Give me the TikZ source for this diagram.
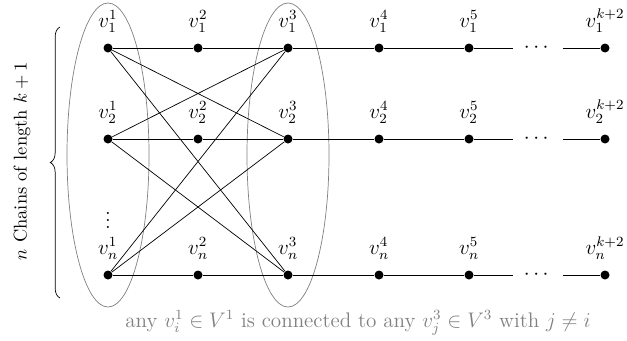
\documentclass[tikz,border=0pt]{standalone}
\usepackage{amsmath,amssymb}
\usetikzlibrary{positioning, shapes.geometric, decorations.pathreplacing}

\begin{document}
\begin{tikzpicture}[
  vtx/.style={circle,fill=black,inner sep=0pt,minimum size=0.18cm},
  grp/.style={draw=gray,thin,ellipse,minimum width=1.64cm,minimum height=6.08cm},
  lbl/.style={font=\large,inner sep=1pt}
]
  \useasboundingbox (0,0) rectangle (12.54,6.8);
  %% Groups V^1 and V^3
  \node[grp] (V1) at (2.16,3.7) {};
  \node[grp] (V3) at (5.76,3.7) {};
  %% Chains
  \foreach \r/\y in {1/5.84, 2/4.02, n/1.3}{
    \foreach \c/\x in {1/2.16, 2/3.96, 3/5.76, 4/7.58, 5/9.38}{
      \node[vtx] (v\r\c) at (\x,\y) {};
      \node[lbl,above=5pt of v\r\c] (l\r\c) {$v_{\r}^{\c}$};
    }
    \node[vtx] (v\r k) at (12.1,\y) {};
    \node[lbl,above=5pt of v\r k] (l\r k) {$v_{\r}^{k+2}$};
    \node[inner xsep=6pt,font=\large] (dots\r) at (10.76,\y) {$\cdots$};
    \draw (v\r1) -- (v\r2) -- (v\r3) -- (v\r4) -- (v\r5) -- (dots\r);
    \draw (dots\r) -- (v\r k);
  }
  \node[font=\large] (vdots) at (2.16,2.5) {$\vdots$};
  %% Cross edges between V^1 and V^3
  \foreach \a/\b in {1/2, 1/n, 2/1, 2/n, n/1, n/2}
    \draw (v\a1) -- (v\b3);
  %% Brace and captions
  \draw[decorate,decoration={brace,amplitude=5.5pt}] (1.2,0.84) -- (1.2,6.26);
  \node[rotate=90,scale=1.05] (chains) at (0.44,3.58) {$n$ Chains of length $k+1$};
  \node[gray,font=\large] (note) at (7.16,0.34) {any $v_i^1 \in V^1$ is connected to any $v_j^3 \in V^3$ with $j \neq i$};
\end{tikzpicture}
\end{document}
